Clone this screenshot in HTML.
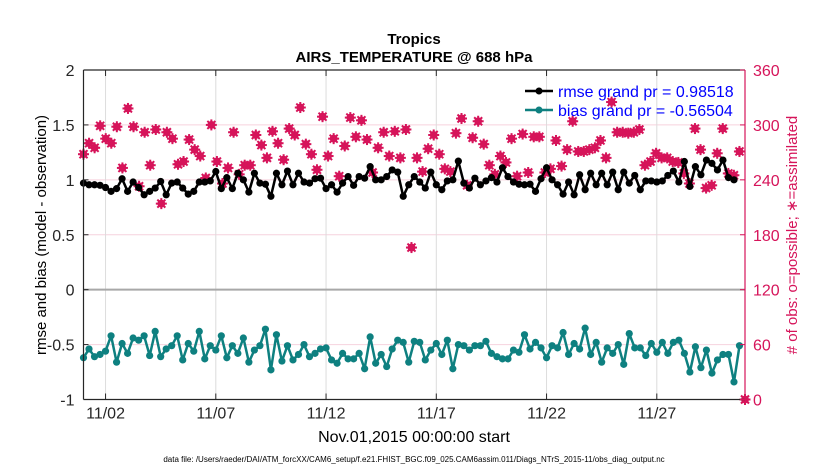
<!DOCTYPE html>
<html><head><meta charset="utf-8"><style>
html,body{margin:0;padding:0;background:#fff;}
svg text{font-family:"Liberation Sans",Arial,sans-serif;}
</style></head><body>
<svg id="chart" width="830" height="470" viewBox="0 0 830 470" xmlns="http://www.w3.org/2000/svg">
<rect width="830" height="470" fill="#fff"/>
<g id="grid"></g>
<g id="marks"></g>
<g id="axes"></g>
<text x="414" y="44" text-anchor="middle" font-size="15" font-weight="bold">Tropics</text>
<text x="414" y="62" text-anchor="middle" font-size="15" font-weight="bold">AIRS_TEMPERATURE @ 688 hPa</text>
<text transform="translate(46,235) rotate(-90)" text-anchor="middle" font-size="15">rmse and bias (model - observation)</text>
<text transform="translate(797,235) rotate(-90)" text-anchor="middle" font-size="15" fill="#d6145a"># of obs: o=possible; ∗=assimilated</text>
<text x="414" y="442" text-anchor="middle" font-size="16">Nov.01,2015 00:00:00 start</text>
<text x="414" y="462" text-anchor="middle" font-size="8">data file: /Users/raeder/DAI/ATM_forcXX/CAM6_setup/f.e21.FHIST_BGC.f09_025.CAM6assim.011/Diags_NTrS_2015-11/obs_diag_output.nc</text>
<g>
<g>
<line x1="525" y1="91" x2="553" y2="91" stroke="#000" stroke-width="2.5"/><circle cx="539" cy="91" r="3.5" fill="#000"/>
<text x="558" y="97" font-size="16" fill="#0000ff">rmse grand pr = 0.98518</text></g>
<g>
<line x1="525" y1="110" x2="553" y2="110" stroke="#0e8080" stroke-width="2.5"/><circle cx="539" cy="110" r="3.5" fill="#0e8080"/>
<text x="558" y="116" font-size="16" fill="#0000ff">bias grand pr = -0.56504</text></g>
</g>
</svg>
<script>
const rmse=[0.97,0.955,0.955,0.95,0.93,0.895,0.92,1.01,0.895,0.98,0.93,0.864,0.895,0.925,0.985,0.864,0.97,0.98,0.925,0.87,0.895,0.98,0.98,0.99,1.076,0.92,1.02,0.92,1.06,1.0,0.888,
1.06,0.97,0.96,0.85,1.06,0.955,1.08,0.955,1.06,0.98,0.97,1.01,1.015,0.92,0.955,0.888,0.97,1.03,0.95,1.03,1.015,1.12,1.0,1.0,1.03,1.09,1.07,0.85,0.955,1.03,
0.98,0.925,1.07,0.955,0.91,0.99,1.0,1.17,0.97,0.925,1.015,0.955,0.99,1.02,0.98,1.11,1.03,0.98,0.96,0.955,0.96,0.895,1.01,1.11,1.0,0.955,0.87,0.98,
0.864,1.046,0.91,1.06,0.955,1.06,0.955,1.07,0.91,1.07,0.97,1.04,0.91,0.99,0.99,0.98,0.99,1.04,1.08,0.98,1.167,0.94,1.12,1.046,1.18,1.15,1.09,1.18,1.02,1.0];
const bias=[-0.62,-0.54,-0.61,-0.59,-0.56,-0.42,-0.66,-0.49,-0.58,-0.44,-0.46,-0.42,-0.6,-0.38,-0.61,-0.54,-0.51,-0.42,-0.64,-0.49,-0.56,-0.38,-0.63,-0.51,-0.55,-0.42,-0.62,-0.51,-0.58,-0.44,-0.66,-0.55,-0.51,-0.36,-0.73,-0.41,-0.65,-0.51,-0.64,-0.59,-0.5,-0.61,-0.58,-0.54,-0.53,-0.64,-0.67,-0.58,-0.63,-0.63,-0.58,-0.72,-0.43,-0.67,-0.59,-0.7,-0.54,-0.46,-0.48,-0.66,
-0.47,-0.48,-0.64,-0.55,-0.49,-0.59,-0.46,-0.72,-0.5,-0.51,-0.55,-0.51,-0.51,-0.47,-0.58,-0.61,-0.63,-0.63,-0.55,-0.57,-0.41,-0.54,-0.48,-0.53,-0.62,-0.51,-0.53,-0.39,-0.59,-0.49,-0.54,-0.35,-0.59,-0.48,-0.66,-0.53,-0.58,-0.5,-0.68,-0.4,-0.53,-0.53,-0.6,-0.49,-0.57,-0.48,-0.58,-0.48,-0.46,-0.58,-0.75,-0.52,-0.71,-0.55,-0.76,-0.64,-0.59,-0.59,-0.84,-0.51];
const obsCount=[268,280,275,299,285,280,298,253,318,298,233,292,256,295,214,292,285,257,260,284,273,266,242,300,260,236,253,292,246,256,
256,289,278,264,293,280,262,296,289,319,279,268,251,309,266,285,244,277,308,287,305,284,248,275,292,266,293,264,295,
166,264,249,274,289,268,252,249,291,307,234,286,304,279,256,246,266,259,285,244,290,248,287,287,248,252,283,
255,273,304,271,271,273,275,283,264,325,292,292,291,292,295,256,260,269,264,264,260,259,247,236,296,273,231,234,269,296,247,245,271,0];
const xTickLabels=["11/02","11/07","11/12","11/17","11/22","11/27"];
const xTickDays=[1,6,11,16,21,26];
const leftTicks=[-1,-0.5,0,0.5,1,1.5,2];
const rightTicks=[0,60,120,180,240,300,360];

const X0=83.5,X1=745,Y0=70,Y1=399.5;
const NS="http://www.w3.org/2000/svg";
function xDay(d){return X0+(d/30)*(X1-X0);}
function yL(v){return Y1-(v+1)/3*(Y1-Y0);}
function yR(v){return Y1-v/360*(Y1-Y0);}
function mk(tag,at,par){const e=document.createElementNS(NS,tag);for(const k in at)e.setAttribute(k,at[k]);par.appendChild(e);return e;}
const grid=document.getElementById('grid'),marks=document.getElementById('marks'),axes=document.getElementById('axes');

rightTicks.forEach(v=>{const l=mk('line',{x1:X0,x2:X1,y1:yR(v),y2:yR(v),stroke:'#f6d2de','stroke-width':1},grid);

});
xTickDays.forEach(d=>{const l=mk('line',{x1:xDay(d),x2:xDay(d),y1:Y0,y2:Y1,stroke:'#dcdcdc','stroke-width':1},grid);

});
const zl=mk('line',{x1:X0,x2:X1,y1:yL(0),y2:yL(0),stroke:'#a8a8a8','stroke-width':2},grid);



const obsStep=30/(obsCount.length-1);
obsCount.forEach((v,i)=>{const x=xDay(i*obsStep),y=yR(v);
const g=mk('g',{stroke:'#d6145a',fill:'#d6145a','stroke-width':2},marks);


mk('circle',{cx:x,cy:y,r:3.3,'stroke-width':1.2},g);
mk('line',{x1:x-5.5,x2:x+5.5,y1:y,y2:y},g);mk('line',{x1:x,x2:x,y1:y-5.5,y2:y+5.5},g);
mk('line',{x1:x-4,x2:x+4,y1:y-4,y2:y+4},g);mk('line',{x1:x-4,x2:x+4,y1:y+4,y2:y-4},g);});

function series(arr,color,name){
const pts=arr.map((v,i)=>xDay(i*0.25).toFixed(1)+','+yL(v).toFixed(1)).join(' ');
const pl=mk('polyline',{points:pts,fill:'none',stroke:color,'stroke-width':2.5,'stroke-linejoin':'round'},marks);


arr.forEach((v,i)=>{const c=mk('circle',{cx:xDay(i*0.25),cy:yL(v),r:3.6,fill:color},marks);

});}
series(rmse,'#000','rmse');
series(bias,'#0e8080','bias');

mk('line',{x1:X0,x2:X0,y1:Y0,y2:Y1,stroke:'#262626','stroke-width':1.2},axes);
mk('line',{x1:X0,x2:X1,y1:Y1,y2:Y1,stroke:'#262626','stroke-width':1.2},axes);
mk('line',{x1:X0,x2:X1,y1:Y0,y2:Y0,stroke:'#262626','stroke-width':1.2},axes);
mk('line',{x1:X1,x2:X1,y1:Y0,y2:Y1,stroke:'#d6145a','stroke-width':1.2},axes);
leftTicks.forEach(v=>{const y=yL(v);mk('line',{x1:X0,x2:X0+5,y1:y,y2:y,stroke:'#262626'},axes);
const t=mk('text',{x:X0-9,y:y+6,'text-anchor':'end','font-size':16,fill:'#262626'},axes);t.textContent=String(v);

});
rightTicks.forEach(v=>{const y=yR(v);mk('line',{x1:X1-5,x2:X1,y1:y,y2:y,stroke:'#d6145a'},axes);
const t=mk('text',{x:X1+8,y:y+6,'font-size':16,fill:'#d6145a'},axes);t.textContent=String(v);

});
xTickDays.forEach((d,i)=>{const x=xDay(d);mk('line',{x1:x,x2:x,y1:Y1-6,y2:Y1,stroke:'#262626'},axes);mk('line',{x1:x,x2:x,y1:Y0,y2:Y0+6,stroke:'#262626'},axes);
const t=mk('text',{x:x,y:Y1+19,'text-anchor':'middle','font-size':16,fill:'#262626'},axes);t.textContent=xTickLabels[i];

});
</script>
</body></html>
